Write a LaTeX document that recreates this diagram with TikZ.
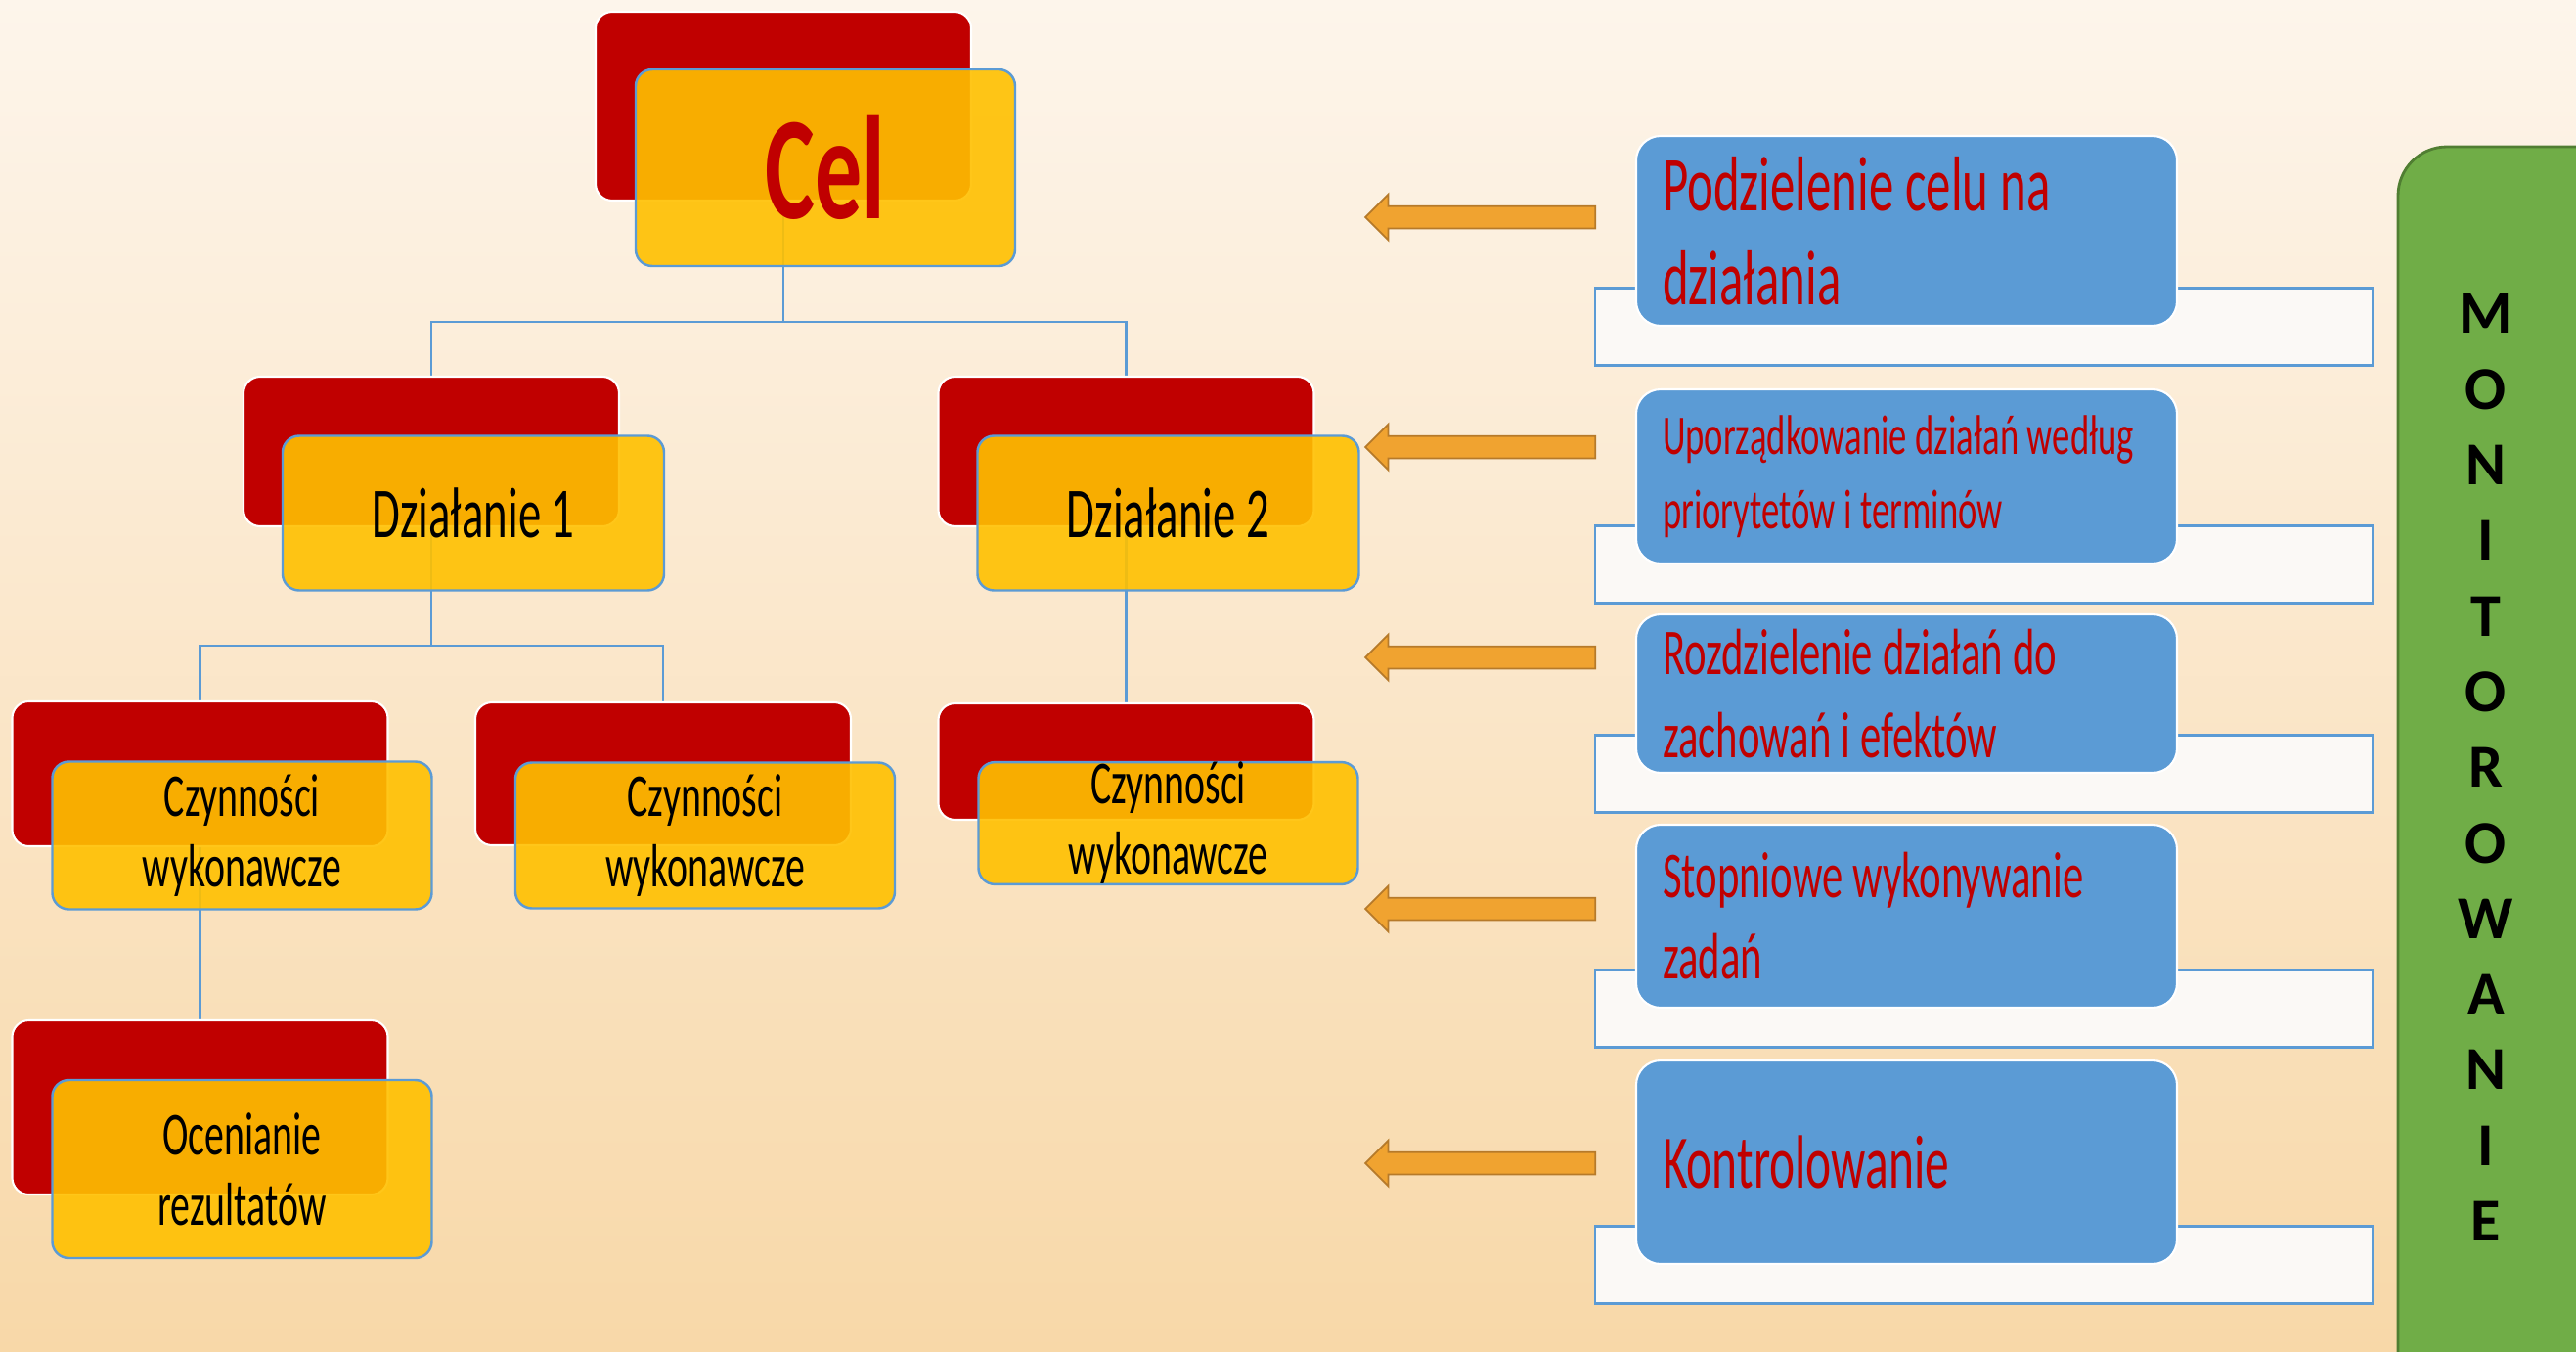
\documentclass[tikz,border=0pt]{standalone}
\usepackage{fontspec}
\setmainfont{Carlito}
\newfontfamily\slim[FakeStretch=0.64]{Carlito}
\newcommand{\slimfont}[2]{\slim\fontsize{#1}{#2}\selectfont}
\usetikzlibrary{shapes,arrows,positioning}
\definecolor{celred}{HTML}{C00000}
\definecolor{gold}{HTML}{FFC000}
\definecolor{sky}{HTML}{5B9BD5}
\definecolor{leaf}{HTML}{70AD47}
\definecolor{leafdark}{HTML}{507E32}
\definecolor{amber}{HTML}{F0A330}
\definecolor{amberdark}{HTML}{B67A2A}
\definecolor{paper}{HTML}{FBF9F6}
\definecolor{creamtop}{HTML}{FDF5EB}
\definecolor{peach}{HTML}{F8D8A8}
\pgfdeclarelayer{bg}
\pgfdeclarelayer{wires}
\pgfsetlayers{bg,wires,main}
\tikzstyle{back} = [rectangle, draw=white, line width=0.6pt, fill=celred,
    rounded corners=0.17cm, minimum width=3.84cm, inner sep=0pt]
\tikzstyle{front} = [rectangle, draw=sky, line width=0.7pt, fill=gold,
    fill opacity=0.9, text opacity=1, rounded corners=0.17cm,
    minimum width=3.88cm, align=center, inner sep=0pt,
    font=\slimfont{17.7}{20.5}]
\tikzstyle{task} = [rectangle, draw=white, line width=0.6pt, fill=sky,
    rounded corners=0.25cm, minimum width=5.53cm, text width=4.99cm,
    inner xsep=0.27cm, inner ysep=0pt, align=left, text=celred,
    execute at begin node={\spaceskip=0.15em\relax}]
\tikzstyle{plate} = [rectangle, draw=sky, line width=0.8pt, fill=paper,
    minimum width=7.95cm, minimum height=0.79cm]
\tikzstyle{wire} = [draw=sky, line width=0.6pt]
\tikzstyle{hint} = [single arrow, draw=amberdark, line width=0.5pt, fill=amber,
    minimum height=2.35cm, minimum width=0.45cm, single arrow head extend=0.12cm,
    inner xsep=0pt, inner ysep=0.105cm, rotate=180]
\begin{document}
\begin{tikzpicture}[node distance = 2cm]
  \useasboundingbox (0,0) rectangle (26.34,-13.82);
  \begin{pgfonlayer}{bg}
    \shade [top color=creamtop, bottom color=peach] (0,0) rectangle (26.34,-13.82);
  \end{pgfonlayer}
  % Place tree nodes
  \node [back, minimum height=1.93cm] (celR) at (8.01,-1.085) {};
  \node [front, right of=celR, node distance=0.43cm, yshift=-0.63cm,
    minimum height=2.01cm, text=celred,
    font=\slimfont{42.7}{50}\bfseries] (cel) {Cel};
  \node [back, below of=celR, node distance=3.53cm, xshift=-3.6cm,
    minimum height=1.53cm] (dz1R) {};
  \node [front, right of=dz1R, node distance=0.43cm, yshift=-0.63cm,
    minimum width=3.9cm, minimum height=1.58cm,
    font=\slimfont{20.8}{24}] (dz1) {Działanie 1};
  \node [back, right of=dz1R, node distance=7.105cm,
    minimum height=1.53cm] (dz2R) {};
  \node [front, right of=dz2R, node distance=0.43cm, yshift=-0.63cm,
    minimum width=3.9cm, minimum height=1.58cm,
    font=\slimfont{20.8}{24}] (dz2) {Działanie 2};
  \node [back, below of=dz1R, node distance=3.295cm, xshift=-2.365cm,
    minimum height=1.48cm] (cz1R) {};
  \node [front, right of=cz1R, node distance=0.43cm, yshift=-0.63cm,
    minimum height=1.51cm] (cz1) {Czynności\\wykonawcze};
  \node [back, right of=cz1R, node distance=4.735cm,
    minimum height=1.46cm] (cz2R) {};
  \node [front, right of=cz2R, node distance=0.43cm, yshift=-0.63cm,
    minimum height=1.49cm] (cz2) {Czynności\\wykonawcze};
  \node [back, below of=dz2R, node distance=3.17cm,
    minimum height=1.19cm] (cz3R) {};
  \node [front, right of=cz3R, node distance=0.43cm, yshift=-0.63cm,
    minimum height=1.24cm] (cz3) {Czynności\\wykonawcze};
  \node [back, below of=cz1R, node distance=3.41cm,
    minimum height=1.78cm] (ocR) {};
  \node [front, right of=ocR, node distance=0.43cm, yshift=-0.63cm,
    minimum height=1.82cm] (oc) {Ocenianie\\rezultatów};
  % Draw tree edges
  \begin{pgfonlayer}{wires}
    \draw [wire] (celR.south) -- ++(0,-1.23) -| (dz1R.north);
    \draw [wire] (celR.south) -- ++(0,-1.23) -| (dz2R.north);
    \draw [wire] (dz1R.south) -- ++(0,-1.21) -| (cz1R.north);
    \draw [wire] (dz1R.south) -- ++(0,-1.21) -| (cz2R.north);
    \draw [wire] (dz2R.south) -- (cz3R.north);
    \draw [wire] (cz1R.south) -- (ocR.north);
  \end{pgfonlayer}
  % Place steps
  \node [task, minimum height=1.94cm, font=\slimfont{22.6}{27.3}]
    (task1) at (19.495,-2.36) {Podzielenie celu na\\działania};
  \node [task, below of=task1, node distance=2.51cm, minimum height=1.78cm,
    font=\slimfont{16.3}{21.6}]
    (task2) {Uporządkowanie działań według\\priorytetów i terminów};
  \node [task, below of=task2, node distance=2.22cm, minimum height=1.62cm,
    font=\slimfont{19}{24.2}]
    (task3) {Rozdzielenie działań do\\zachowań i efektów};
  \node [task, below of=task3, node distance=2.275cm, minimum height=1.87cm,
    font=\slimfont{19}{23.6}]
    (task4) {Stopniowe wykonywanie\\zadań};
  \node [task, below of=task4, node distance=2.515cm, minimum height=2.08cm,
    font=\slimfont{22}{29}]
    (task5) {Kontrolowanie};
  \begin{pgfonlayer}{wires}
    \foreach \i in {1,...,5}
      \node [plate] (plate\i) at ([xshift=0.79cm]task\i.south) {};
  \end{pgfonlayer}
  % Arrows
  \node [hint, anchor=tail] (hint1) at (16.32,-2.22) {};
  \node [hint, anchor=tail] (hint2) at (16.32,-4.57) {};
  \node [hint, anchor=tail] (hint3) at (16.32,-6.72) {};
  \node [hint, anchor=tail] (hint4) at (16.32,-9.29) {};
  \node [hint, anchor=tail] (hint5) at (16.32,-11.89) {};
  % Monitoring bar
  \begin{scope}
    \clip (0,0) rectangle (26.34,-13.82);
    \draw [draw=leafdark, line width=0.8pt, fill=leaf, rounded corners=0.5cm]
      (24.52,-1.50) rectangle (27.2,-14.6);
  \end{scope}
  \node [align=center, font=\bfseries\fontsize{17.7}{22}\selectfont]
    (monitext) at (25.42,-7.845) {M\\O\\N\\I\\T\\O\\R\\O\\W\\A\\N\\I\\E};
\end{tikzpicture}
\end{document}
